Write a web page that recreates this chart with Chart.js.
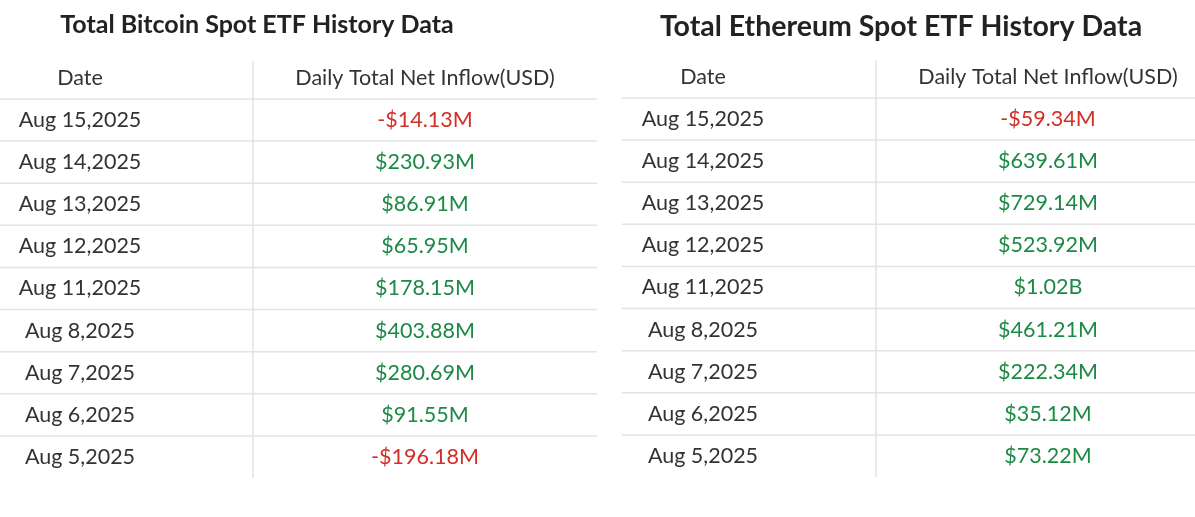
<!DOCTYPE html>
<html><head><meta charset="utf-8">
<script src="https://cdn.jsdelivr.net/npm/chart.js@4"></script>
<style>
body{margin:0;background:#fff;width:1195px;height:517px;position:relative;overflow:hidden}
.box{position:absolute;top:0;height:517px}
</style></head><body>
<div class="box" style="left:0;width:600px"><canvas id="btc"></canvas></div>
<div class="box" style="left:622px;width:573px"><canvas id="eth"></canvas></div>
<script>
const btcDates = ["Aug 15,2025","Aug 14,2025","Aug 13,2025","Aug 12,2025","Aug 11,2025","Aug 8,2025","Aug 7,2025","Aug 6,2025","Aug 5,2025"];
const btcFlows = [-14.13, 230.93, 86.91, 65.95, 178.15, 403.88, 280.69, 91.55, -196.18];
const ethDates = ["Aug 15,2025","Aug 14,2025","Aug 13,2025","Aug 12,2025","Aug 11,2025","Aug 8,2025","Aug 7,2025","Aug 6,2025","Aug 5,2025"];
const ethFlows = [-59.34, 639.61, 729.14, 523.92, 1020, 461.21, 222.34, 35.12, 73.22];
const headers = ["Date", "Daily Total Net Inflow(USD)"];

function fmt(v) {
  const a = Math.abs(v);
  const s = a >= 1000 ? "$" + (a / 1000).toFixed(2) + "B" : "$" + a.toFixed(2) + "M";
  return (v < 0 ? "-" : "") + s;
}

// draws the table cells from the category scale
const tablePlugin = {
  id: "table",
  afterDraw(chart, args, o) {
    const ctx = chart.ctx, y = chart.scales.y, w = chart.width;
    const labels = chart.data.labels, vals = chart.data.datasets[0].data;
    const step = y.getPixelForValue(1) - y.getPixelForValue(0);
    ctx.save();
    ctx.textAlign = "center"; ctx.textBaseline = "middle";
    ctx.fillStyle = "#222";
    ctx.font = "bold " + o.titleSize + "px Lato";
    ctx.fillText(o.title, o.titleX, o.titleY);
    ctx.font = "21.5px Lato"; ctx.fillStyle = "#333";
    const hy = y.getPixelForValue(0) - step;
    ctx.fillText(headers[0], o.c1, hy);
    ctx.fillText(headers[1], o.c2, hy);
    ctx.strokeStyle = "#e3e3e3"; ctx.lineWidth = 1.5;
    ctx.beginPath();
    ctx.moveTo(o.div, hy - step / 2 + 4); ctx.lineTo(o.div, y.getPixelForValue(labels.length - 1) + step / 2);
    for (let i = 0; i < labels.length; i++) {
      const ly = y.getPixelForValue(i) - step / 2;
      ctx.moveTo(0, ly); ctx.lineTo(w - o.rPad, ly);
    }
    ctx.stroke();
    labels.forEach((d, i) => {
      const cy = y.getPixelForValue(i);
      ctx.fillStyle = "#333";
      ctx.fillText(d, o.c1, cy);
      ctx.fillStyle = vals[i] < 0 ? "#d22f27" : "#1c8a45";
      ctx.fillText(fmt(vals[i]), o.c2, cy);
    });
    ctx.restore();
  }
};

function makeTable(id, dates, flows, opts) {
  new Chart(document.getElementById(id), {
    type: "bar",
    data: { labels: dates, datasets: [{ data: flows, backgroundColor: "transparent" }] },
    options: {
      indexAxis: "y", responsive: true, maintainAspectRatio: false, animation: false,
      layout: { padding: { top: opts.top, bottom: 517 - opts.top - 379, left: 0, right: 0 } },
      scales: { x: { display: false }, y: { display: false } },
      plugins: { legend: { display: false }, tooltip: { enabled: false }, table: opts }
    },
    plugins: [tablePlugin]
  });
}

makeTable("btc", btcDates, btcFlows, { top: 99, title: "Total Bitcoin Spot ETF History Data", titleSize: 25, titleX: 257, titleY: 25, c1: 80, c2: 425, div: 253, rPad: 3 });
makeTable("eth", ethDates, ethFlows, { top: 98, title: "Total Ethereum Spot ETF History Data", titleSize: 28.5, titleX: 279, titleY: 27, c1: 81, c2: 426, div: 254, rPad: 0 });
</script>
</body></html>
